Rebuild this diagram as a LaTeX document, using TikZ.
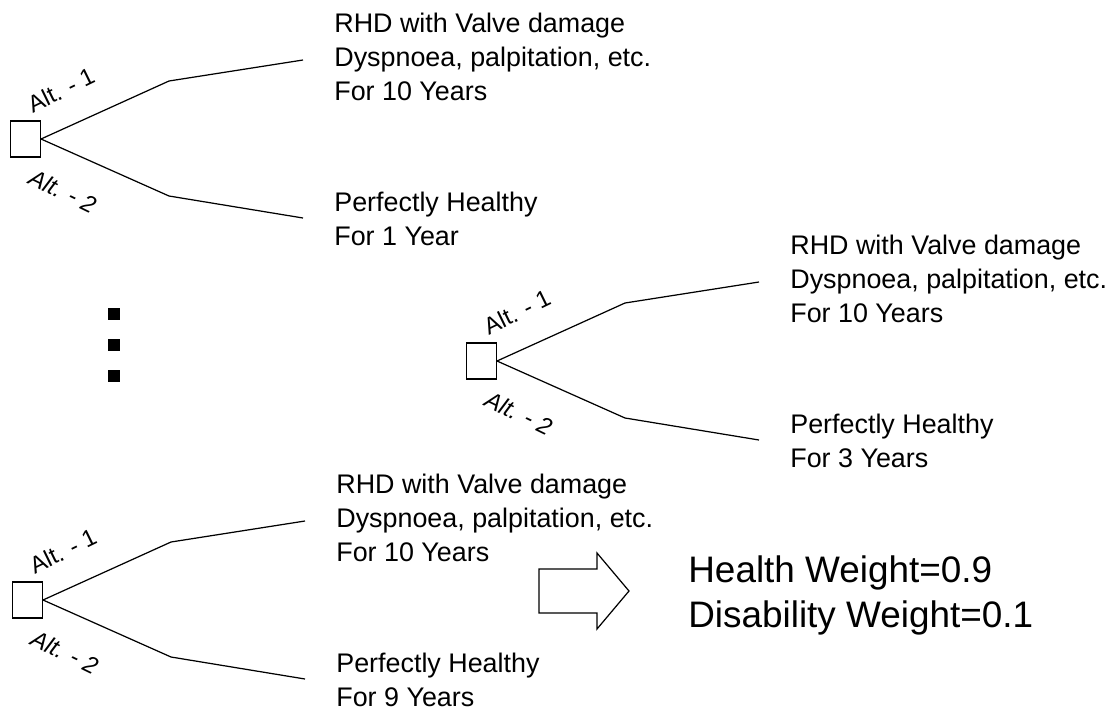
\documentclass[tikz,border=0pt]{standalone}
\usepackage{fontspec}
\setmainfont{Liberation Sans}
\usetikzlibrary{calc}
\tikzset{choice/.style = {draw, line width=0.7pt, minimum width=17pt, minimum height=20.5pt, inner sep=0pt}}
\tikzset{branch/.style = {line width=0.7pt}}
\tikzset{outcome/.style = {anchor=base west, align=left, inner sep=0pt, font=\fontsize{15.3}{19.35}\selectfont}}
\tikzset{altlabel/.style = {inner sep=0pt, font=\fontsize{13.5}{15}\selectfont}}
\tikzset{altslant/.style = {altlabel, font=\fontsize{13.5}{15}\selectfont\itshape}}
% #1 name, #2 root point, #3 years healthy
\newcommand{\altTree}[3]{%
	\node[choice, anchor=east] (#1box) at (#2) {};
	\coordinate (#1up)  at ($(#1box.east)+(128,-58)$);
	\coordinate (#1upend) at ($(#1box.east)+(262,-79)$);
	\coordinate (#1dn)  at ($(#1box.east)+(128,57)$);
	\coordinate (#1dnend) at ($(#1box.east)+(262,79)$);
	\draw[branch]	(#1box.east) -- (#1up) -- (#1upend);
	\draw[branch]	(#1box.east) -- (#1dn) -- (#1dnend);
	\node[altlabel, rotate=26] (#1alta) at ($(#1box.east)+(20,-49)$) {Alt. - 1};
	\node[altslant, rotate=-26] (#1altb) at ($(#1box.east)+(22,52)$) {Alt. - 2};
	% base anchor sits on the last line
	\node[outcome] (#1valve) at ($(#1box.east)+(293,-39)$) {RHD with Valve damage\\Dyspnoea, palpitation, etc.\\For 10 Years};
	\node[outcome] (#1healthy) at ($(#1box.east)+(293,106)$) {Perfectly Healthy\\For #3};
}

\begin{document}
\begin{tikzpicture}[x=0.02cm, y=-0.02cm]
	\useasboundingbox (0,0) rectangle (1107,711);
	
	\altTree{first}{41,139}{1 Year}
	\altTree{second}{497,361}{3 Years}
	\altTree{last}{43,600}{9 Years}
	
	\foreach \y in {308,339,370}
		\fill	(108,\y) rectangle ++(12,12);
	
	\draw[branch]	(539,569) -- (597,569) -- (597,553) -- (629,591) -- (597,629) -- (597,613) -- (539,613) -- cycle;
	\node[anchor=base west, align=left, inner sep=0pt, font=\fontsize{21}{25.6}\selectfont] (weights) at (688,627) {Health Weight=0.9\\Disability Weight=0.1};
\end{tikzpicture}
\end{document}
